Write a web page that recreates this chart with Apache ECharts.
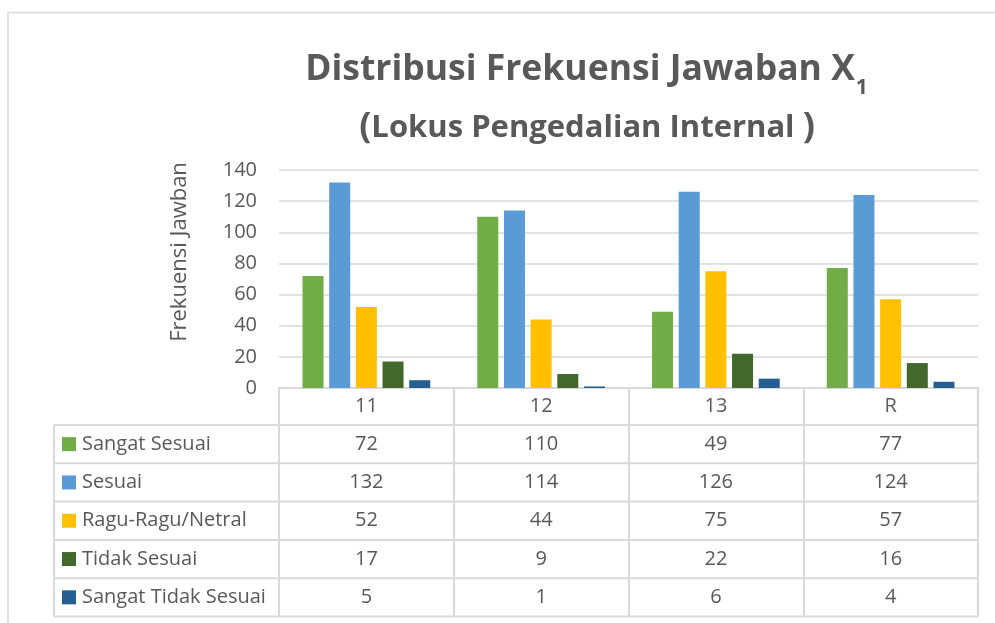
<!DOCTYPE html>
<html>
<head>
<meta charset="utf-8">
<script src="https://cdn.jsdelivr.net/npm/echarts@6/dist/echarts.min.js"></script>
<style>
  html, body { margin: 0; padding: 0; background: #fff; }
  #chart { width: 995px; height: 623px; }
</style>
</head>
<body>
<div id="chart"></div>
<script>
// data
var categories = ['11', '12', '13', 'R'];
var seriesNames = ['Sangat Sesuai', 'Sesuai', 'Ragu-Ragu/Netral', 'Tidak Sesuai', 'Sangat Tidak Sesuai'];
var sangatSesuai = [72, 110, 49, 77];
var sesuai = [132, 114, 126, 124];
var raguRagu = [52, 44, 75, 57];
var tidakSesuai = [17, 9, 22, 16];
var sangatTidakSesuai = [5, 1, 6, 4];
var seriesValues = [sangatSesuai, sesuai, raguRagu, tidakSesuai, sangatTidakSesuai];
var colors = ['#70AD47', '#5B9BD5', '#FFC000', '#43682B', '#255E91'];

var chart = echarts.init(document.getElementById('chart'));

// plot / table geometry
var GL = 279, GR = 978, GT = 170, GB = 388;
var TABLE_LEFT = 54, ROW_H = 38.3, HEAD_BOTTOM = 425;
var TABLE_BOTTOM = HEAD_BOTTOM + ROW_H * seriesNames.length;
var colW = (GR - GL) / categories.length;
var textColor = '#595959';
var lineColor = '#D9D9D9';
var font = '"Open Sans", sans-serif';

// measure the main title so the subscript can sit right after the X
var titleMain = 'Distribusi Frekuensi Jawaban X';
var titleSize = 35.5;
var ctx = document.createElement('canvas').getContext('2d');
ctx.font = 'bold ' + titleSize + 'px "Open Sans", sans-serif';
var titleW = ctx.measureText(titleMain).width;
var titleCx = 580;

var graphics = [];
// outer chart border
graphics.push({
  type: 'rect', silent: true,
  shape: { x: 8, y: 12.5, width: 1200, height: 800 },
  style: { fill: null, stroke: lineColor, lineWidth: 1.5 }
});
// titles
graphics.push({
  type: 'text', silent: true, x: titleCx, y: 70,
  style: {
    text: titleMain, fontFamily: font, fontWeight: 'bold', fontSize: titleSize, fill: textColor,
    align: 'center', verticalAlign: 'middle'
  }
});
graphics.push({
  type: 'text', silent: true, x: titleCx + titleW / 2 + 1, y: 88,
  style: {
    text: '1', fontFamily: font, fontWeight: 'bold', fontSize: 21, fill: textColor,
    align: 'left', verticalAlign: 'middle'
  }
});
graphics.push({
  type: 'text', silent: true, x: 587, y: 128,
  style: {
    text: '{p|(}Lokus Pengedalian Internal {p|)}',
    fontFamily: font, fontWeight: 'bold', fontSize: 31, fill: textColor,
    align: 'center', verticalAlign: 'middle',
    rich: { p: { fontFamily: font, fontWeight: 'bold', fontSize: 36, fill: textColor } }
  }
});
// y axis name
graphics.push({
  type: 'text', silent: true, x: 180, y: 252, rotation: Math.PI / 2,
  style: {
    text: 'Frekuensi Jawban', fontFamily: font, fontSize: 22, fill: textColor,
    align: 'center', verticalAlign: 'middle'
  }
});
// data table lines
for (var k = 0; k <= seriesNames.length; k++) {
  var yy = HEAD_BOTTOM + k * ROW_H;
  graphics.push({
    type: 'line', silent: true,
    shape: { x1: TABLE_LEFT, y1: yy, x2: GR, y2: yy },
    style: { stroke: lineColor, lineWidth: 2 }
  });
}
graphics.push({
  type: 'line', silent: true,
  shape: { x1: TABLE_LEFT, y1: HEAD_BOTTOM, x2: TABLE_LEFT, y2: TABLE_BOTTOM },
  style: { stroke: lineColor, lineWidth: 2 }
});
// legend keys, names and values
seriesNames.forEach(function (name, i) {
  var cy = HEAD_BOTTOM + (i + 0.5) * ROW_H;
  graphics.push({
    type: 'rect', silent: true,
    shape: { x: 62, y: cy - 7, width: 14, height: 14 },
    style: { fill: colors[i] }
  });
  graphics.push({
    type: 'text', silent: true, x: 82, y: cy,
    style: { text: name, fontFamily: font, fontSize: 20, fill: textColor, align: 'left', verticalAlign: 'middle' }
  });
  seriesValues[i].forEach(function (v, j) {
    graphics.push({
      type: 'text', silent: true, x: GL + (j + 0.5) * colW, y: cy,
      style: { text: String(v), fontFamily: font, fontSize: 20, fill: textColor, align: 'center', verticalAlign: 'middle' }
    });
  });
});

var series = seriesNames.map(function (name, i) {
  return {
    name: name,
    type: 'bar',
    data: seriesValues[i],
    barWidth: 21,
    barGap: '27%',
    itemStyle: { color: colors[i] },
    emphasis: { disabled: true }
  };
});

var option = {
  animation: false,
  backgroundColor: '#fff',
  grid: { left: GL, right: 995 - GR, top: GT, bottom: 623 - GB, containLabel: false },
  xAxis: {
    type: 'category',
    data: categories,
    axisLine: { lineStyle: { color: lineColor, width: 2 } },
    axisTick: { show: true, length: TABLE_BOTTOM - GB, lineStyle: { color: lineColor, width: 2 } },
    axisLabel: { fontFamily: font, fontSize: 20, color: textColor, margin: 18.5, verticalAlign: 'middle' },
    splitLine: { show: false }
  },
  yAxis: {
    type: 'value',
    min: 0,
    max: 140,
    interval: 20,
    axisLine: { show: false },
    axisTick: { show: false },
    axisLabel: { fontFamily: font, fontSize: 20, color: textColor, margin: 22 },
    splitLine: { lineStyle: { color: lineColor, width: 1.5 } }
  },
  graphic: graphics,
  series: series
};

chart.setOption(option);
</script>
</body>
</html>
